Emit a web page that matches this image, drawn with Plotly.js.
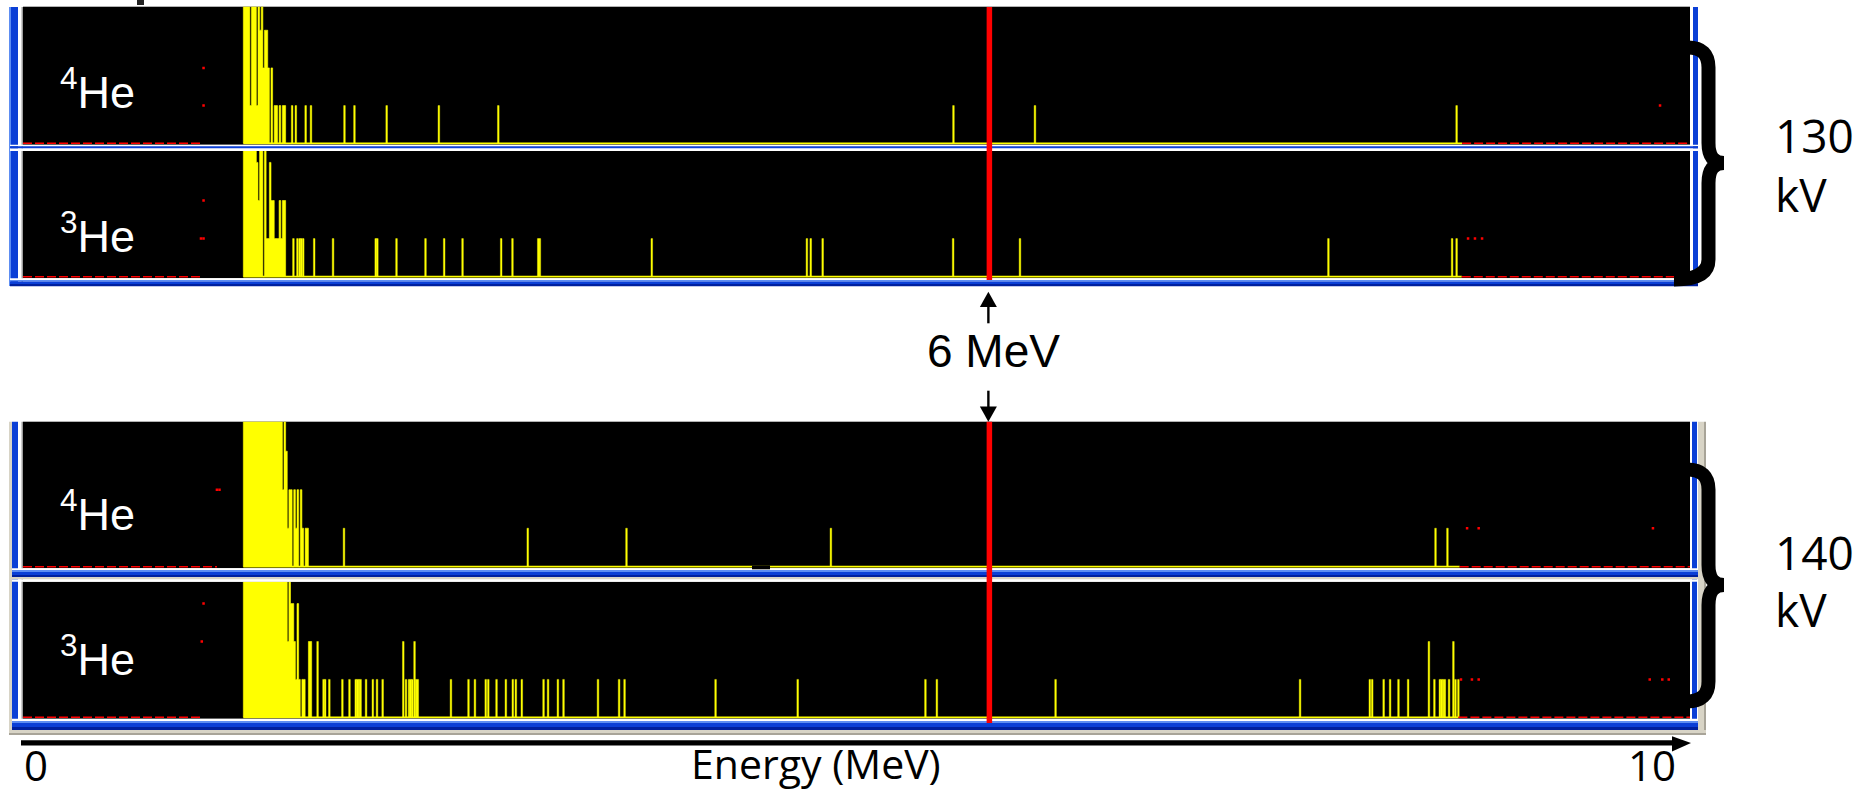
<!DOCTYPE html>
<html>
<head>
<meta charset="utf-8">
<script src="https://cdn.plot.ly/plotly-3.0.1.min.js"></script>
<style>
html,body{margin:0;padding:0;background:#ffffff;}
#chart{width:1862px;height:792px;}
</style>
</head>
<body>
<div id="chart"></div>
<script>
// ================= DATA =================
const E_MIN = 0, E_MAX = 10.35;        // energy span of each spectrum window (MeV)
const CHANNEL_MEV = 0.0101;            // width of one spectrum channel (MeV)
const MARKER_MEV = 6;                  // 6 MeV marker
const massNumbers = ["4", "3", "4", "3"];
const voltages = ["130", "140"];
const axisStart = "0", axisEnd = "10", axisTitle = "Energy (MeV)";
const markerLabel = "6 MeV";

// 4He, 130 kV
const he4_130_blobStart = 1.368;
const he4_130_blob = [9,9,9,9,1,9,9,9,1,9,3,9,2,3,3,2,0,2,0,1,1,0,1,0,1,1];
const he4_130_peakE = [1.671,1.694,1.755,1.788,1.996,2.058,2.258,2.582,2.951,5.777,6.283,8.901];
const he4_130_peakN = [1,1,1,1,1,1,1,1,1,1,1,1];
const he4_130_roi = [1.368, 8.935];
const he4_130_offLeft = 1.111;
const he4_130_dotE = [1.121, 1.121, 10.164];
const he4_130_dotN = [2, 1, 1];

// 3He, 130 kV
const he3_130_blobStart = 1.368;
const he3_130_blob = [9,9,9,9,9,9,9,9,3,2,9,9,0,9,1,1,3,2,2,1,1,1,2,1,2,2];
const he3_130_peakE = [1.679,1.704,1.718,1.728,1.740,1.808,1.925,2.190,2.200,2.319,2.499,2.615,2.729,2.969,3.039,3.199,3.209,3.904,4.867,4.891,4.965,5.775,6.190,8.105,8.873,8.901];
const he3_130_peakN = [1,1,1,1,1,1,1,1,1,1,1,1,1,1,1,1,1,1,1,1,1,1,1,1,1,1];
const he3_130_roi = [1.368, 8.933];
const he3_130_offLeft = 1.099;
const he3_130_dotE = [1.121, 1.105, 1.121, 8.972, 9.015, 9.059];
const he3_130_dotN = [2, 1, 1, 1, 1, 1];

// 4He, 140 kV
const he4_140_blobStart = 1.368;
const he4_140_blob = [9,9,9,9,9,9,9,9,9,9,9,9,9,9,9,9,9,9,9,9,9,9,9,9,2,9,3,1,2,2,0,2,1,2,0,2,1,0,1,1];
const he4_140_peakE = [1.993,3.134,3.747,5.016,8.770,8.844];
const he4_140_peakN = [1,1,1,1,1,1];
const he4_140_roi = [1.368, 8.920];
const he4_140_offLeft = 1.2045;
const he4_140_dotE = [1.204, 1.220, 8.966, 9.038, 10.120];
const he4_140_dotN = [2, 2, 1, 1, 1];

// 3He, 140 kV
const he3_140_blobStart = 1.368;
const he3_140_blob = [9,9,9,9,9,9,9,9,9,9,9,9,9,9,9,9,9,9,9,9,9,9,9,9,9,9,9,2,9,3,3,2,1,3,1,0,1,1,0,0,2,2];
const he3_140_peakE = [1.829,1.866,1.876,1.902,1.983,2.027,2.066,2.076,2.086,2.096,2.130,2.172,2.198,2.233,2.361,2.378,2.397,2.407,2.417,2.431,2.441,2.451,2.657,2.766,2.806,2.873,2.889,2.940,2.998,3.041,3.060,3.097,3.232,3.260,3.321,3.356,3.570,3.701,3.735,4.300,4.810,5.603,5.674,6.411,7.929,8.362,8.377,8.448,8.488,8.540,8.600,8.729,8.763,8.797,8.807,8.817,8.828,8.854,8.881,8.894,8.912];
const he3_140_peakN = [2,1,1,1,1,1,1,1,1,1,1,1,1,1,2,1,1,1,1,2,1,1,1,1,1,1,1,1,1,1,1,1,1,1,1,1,1,1,1,1,1,1,1,1,1,1,1,1,1,1,1,2,1,1,1,1,1,1,2,1,1];
const he3_140_roi = [1.368, 8.912];
const he3_140_offLeft = 1.111;
const he3_140_dotE = [1.121, 1.110, 8.928, 8.996, 9.038, 10.100, 10.178, 10.218];
const he3_140_dotN = [3, 2, 1, 1, 1, 1, 1, 1];

const spectra = [
  {start: he4_130_blobStart, blob: he4_130_blob, pe: he4_130_peakE, pn: he4_130_peakN, roi: he4_130_roi, off: he4_130_offLeft, de: he4_130_dotE, dn: he4_130_dotN},
  {start: he3_130_blobStart, blob: he3_130_blob, pe: he3_130_peakE, pn: he3_130_peakN, roi: he3_130_roi, off: he3_130_offLeft, de: he3_130_dotE, dn: he3_130_dotN},
  {start: he4_140_blobStart, blob: he4_140_blob, pe: he4_140_peakE, pn: he4_140_peakN, roi: he4_140_roi, off: he4_140_offLeft, de: he4_140_dotE, dn: he4_140_dotN},
  {start: he3_140_blobStart, blob: he3_140_blob, pe: he3_140_peakE, pn: he3_140_peakN, roi: he3_140_roi, off: he3_140_offLeft, de: he3_140_dotE, dn: he3_140_dotN}
];

// ================= LAYOUT GEOMETRY (pixels) =================
const W = 1862, H = 792;
const PLOT_L = 23, PLOT_R = 1690;
const fx = x => x / W;
const fy = y => 1 - y / H;
const P = (x, y) => fx(x).toFixed(5) + ',' + fy(y).toFixed(5);

const panelPx = [
  {top: 6.7,   bottom: 144.8, base: 143.3, unit: 37.7},
  {top: 151,   bottom: 278.2, base: 276.7, unit: 38.1},
  {top: 421.7, bottom: 568.2, base: 566.7, unit: 38.5},
  {top: 581.7, bottom: 718.8, base: 717.3, unit: 37.9}
];
const yIds = ['y', 'y2', 'y3', 'y4'];
const yKeys = ['yaxis', 'yaxis2', 'yaxis3', 'yaxis4'];

const YELLOW = '#ffff00';
const RED = '#ff0000';

const traces = [];
const layout = {
  width: W, height: H,
  margin: {l: 0, r: 0, t: 0, b: 0, pad: 0},
  paper_bgcolor: '#ffffff',
  plot_bgcolor: '#000000',
  showlegend: false,
  barmode: 'overlay',
  xaxis: {domain: [fx(PLOT_L), fx(PLOT_R)], range: [E_MIN, E_MAX], visible: false, fixedrange: true, anchor: 'y'},
  shapes: [],
  annotations: []
};

spectra.forEach((s, k) => {
  const g = panelPx[k];
  layout[yKeys[k]] = {
    domain: [fy(g.bottom), fy(g.top)],
    range: [-(g.bottom - g.base) / g.unit, (g.base - g.top) / g.unit],
    visible: false, fixedrange: true, anchor: 'x'
  };
  // yellow baseline inside region of interest
  traces.push({type: 'scatter', mode: 'lines', x: [s.roi[0], s.roi[1]], y: [0, 0],
    xaxis: 'x', yaxis: yIds[k], line: {color: YELLOW, width: 1.8}, hoverinfo: 'skip'});
  // red dashed baseline outside region of interest
  traces.push({type: 'scatter', mode: 'lines', x: [E_MIN, s.off, null, s.roi[1], E_MAX], y: [0, 0, null, 0, 0],
    xaxis: 'x', yaxis: yIds[k], line: {color: RED, width: 1.6, dash: '9px,3px'}, hoverinfo: 'skip'});
  // dense low-energy part of the spectrum: filled step histogram
  const sx = [s.start], sy = [0];
  s.blob.forEach((n, i) => { sx.push(s.start + i * CHANNEL_MEV); sy.push(n); });
  sx.push(s.start + s.blob.length * CHANNEL_MEV); sy.push(0);
  traces.push({type: 'scatter', mode: 'lines', x: sx, y: sy, xaxis: 'x', yaxis: yIds[k],
    line: {shape: 'hv', color: YELLOW, width: 0.6}, fill: 'tozeroy', fillcolor: YELLOW, hoverinfo: 'skip'});
  // isolated channels
  traces.push({type: 'bar', x: s.pe, y: s.pn, width: CHANNEL_MEV, xaxis: 'x', yaxis: yIds[k],
    marker: {color: YELLOW, line: {color: YELLOW, width: 0.4}}, hoverinfo: 'skip'});
  // red ROI marker dots
  traces.push({type: 'scatter', mode: 'markers', x: s.de, y: s.dn, xaxis: 'x', yaxis: yIds[k],
    marker: {symbol: 'square', size: 2.5, color: RED, line: {width: 0}}, hoverinfo: 'skip'});
});

// ================= FRAMES =================
const rect = (x0, y0, x1, y1, color) => ({type: 'rect', xref: 'paper', yref: 'paper',
  x0: fx(x0), x1: fx(x1), y0: fy(y1), y1: fy(y0), fillcolor: color, line: {width: 0}, layer: 'above'});
const BLUE = '#0b3fd6', BLUE_L = '#5d8df2', BLUE_D = '#00209e', TAN = '#d8d4c6', TAN_D = '#a8a498', GREY = '#9c9c9c';

// window 1 (130 kV)
layout.shapes.push(
  rect(9, 7, 11, 286, BLUE_L), rect(11, 7, 18, 286, BLUE), rect(18, 7, 21.5, 286, '#ffffff'), rect(21.5, 7, 23, 286, GREY),
  rect(1690, 7, 1693, 286, '#ffffff'), rect(1693, 7, 1698, 286, BLUE),
  rect(10, 144.8, 1698, 146.2, '#ffffff'), rect(10, 146.2, 1698, 148.6, BLUE), rect(10, 148.6, 1698, 151, '#ffffff'),
  rect(10, 278.2, 1698, 280, '#ffffff'), rect(10, 280, 1698, 281.6, BLUE_L), rect(10, 281.6, 1698, 284, BLUE), rect(10, 284, 1698, 286.2, BLUE_D),
  rect(137, 0, 144, 5, '#222222')
);
// window 2 (140 kV)
layout.shapes.push(
  rect(9, 421.7, 12, 735, TAN), rect(12, 421.7, 18, 730, BLUE), rect(18, 421.7, 21.5, 722, '#ffffff'), rect(21.5, 421.7, 23, 719, GREY),
  rect(1690, 421.7, 1692, 722, '#ffffff'), rect(1692, 421.7, 1697, 730, BLUE), rect(1698, 421.7, 1704, 735, TAN), rect(1704, 421.7, 1706, 735, TAN_D),
  rect(12, 568.2, 1698, 570, '#ffffff'), rect(12, 570, 1698, 572, BLUE_L), rect(12, 572, 1698, 575, BLUE), rect(12, 575, 1698, 577, BLUE_D),
  rect(12, 577, 1698, 579.5, TAN), rect(12, 579.5, 1698, 581.7, '#ffffff'),
  rect(12, 718.8, 1698, 721, '#ffffff'), rect(12, 721, 1698, 723, BLUE_L), rect(12, 723, 1698, 727, BLUE), rect(12, 727, 1698, 730, BLUE_D),
  rect(9, 730, 1706, 733, TAN), rect(9, 733, 1706, 735, TAN_D),
  rect(752, 565.6, 770, 569.3, '#000000')
);

// 6 MeV marker lines (data x)
layout.shapes.push(
  {type: 'line', xref: 'x', yref: 'paper', x0: MARKER_MEV, x1: MARKER_MEV, y0: fy(280), y1: fy(7), line: {color: RED, width: 5.5}, layer: 'above'},
  {type: 'line', xref: 'x', yref: 'paper', x0: MARKER_MEV, x1: MARKER_MEV, y0: fy(723), y1: fy(421.7), line: {color: RED, width: 5.5}, layer: 'above'}
);

// arrows next to "6 MeV"
const xm = PLOT_L + (MARKER_MEV - E_MIN) / (E_MAX - E_MIN) * (PLOT_R - PLOT_L) - 1;
layout.shapes.push(
  {type: 'line', xref: 'paper', yref: 'paper', x0: fx(xm), x1: fx(xm), y0: fy(323.3), y1: fy(305), line: {color: '#000', width: 2.4}},
  {type: 'path', xref: 'paper', yref: 'paper', path: 'M' + P(xm, 291.7) + ' L' + P(xm - 8.5, 307) + ' L' + P(xm + 8.5, 307) + ' Z', fillcolor: '#000', line: {width: 0}},
  {type: 'line', xref: 'paper', yref: 'paper', x0: fx(xm), x1: fx(xm), y0: fy(390.7), y1: fy(408.5), line: {color: '#000', width: 2.4}},
  {type: 'path', xref: 'paper', yref: 'paper', path: 'M' + P(xm, 421.7) + ' L' + P(xm - 8.5, 406.5) + ' L' + P(xm + 8.5, 406.5) + ' Z', fillcolor: '#000', line: {width: 0}}
);

// energy axis arrow
layout.shapes.push(
  rect(21, 740.3, 1674, 745.5, '#000000'),
  {type: 'path', xref: 'paper', yref: 'paper', path: 'M' + P(1672, 736.3) + ' L' + P(1691, 742.9) + ' L' + P(1672, 751.5) + ' Z', fillcolor: '#000', line: {width: 0}}
);

// braces
function bracePath(top, mid, bot, xl1, xl2) {
  const xv = 1708.5, xt = 1724, r = 20;
  return 'M' + P(xl1, top) + ' Q' + P(xv, top) + ' ' + P(xv, top + r) +
    ' L' + P(xv, mid - r) + ' Q' + P(xv, mid) + ' ' + P(xt, mid) +
    ' Q' + P(xv, mid) + ' ' + P(xv, mid + r) +
    ' L' + P(xv, bot - r) + ' Q' + P(xv, bot) + ' ' + P(xl2, bot);
}
layout.shapes.push(
  {type: 'path', xref: 'paper', yref: 'paper', path: bracePath(47.5, 163, 279.5, 1688, 1674), line: {color: '#000', width: 14}, layer: 'above'},
  {type: 'path', xref: 'paper', yref: 'paper', path: bracePath(469.5, 585, 701.5, 1687, 1687), line: {color: '#000', width: 14}, layer: 'above'}
);

// ================= TEXT =================
const labelFont = 'Liberation Sans, Arial, sans-serif';
const sideFont = 'Open Sans, Noto Sans, sans-serif';
const heCenters = [89, 233, 511, 656];
massNumbers.forEach((m, k) => {
  layout.annotations.push({xref: 'paper', yref: 'paper', x: fx(58), y: fy(heCenters[k]), xanchor: 'left', yanchor: 'middle',
    text: '<sup>' + m + '</sup>He', showarrow: false, font: {family: labelFont, size: 45, color: '#ffffff'}});
});
layout.annotations.push(
  {xref: 'paper', yref: 'paper', x: fx(993), y: fy(351.5), xanchor: 'center', yanchor: 'middle', text: markerLabel, showarrow: false, font: {family: labelFont, size: 46, color: '#000'}},
  {xref: 'paper', yref: 'paper', x: fx(1773), y: fy(135), xanchor: 'left', yanchor: 'middle', text: voltages[0], showarrow: false, font: {family: sideFont, size: 46, color: '#000'}},
  {xref: 'paper', yref: 'paper', x: fx(1773), y: fy(193.5), xanchor: 'left', yanchor: 'middle', text: 'kV', showarrow: false, font: {family: sideFont, size: 46, color: '#000'}},
  {xref: 'paper', yref: 'paper', x: fx(1773), y: fy(551.5), xanchor: 'left', yanchor: 'middle', text: voltages[1], showarrow: false, font: {family: sideFont, size: 46, color: '#000'}},
  {xref: 'paper', yref: 'paper', x: fx(1773), y: fy(609), xanchor: 'left', yanchor: 'middle', text: 'kV', showarrow: false, font: {family: sideFont, size: 46, color: '#000'}},
  {xref: 'paper', yref: 'paper', x: fx(36), y: fy(764), xanchor: 'center', yanchor: 'middle', text: axisStart, showarrow: false, font: {family: sideFont, size: 42, color: '#000'}},
  {xref: 'paper', yref: 'paper', x: fx(1652), y: fy(764), xanchor: 'center', yanchor: 'middle', text: axisEnd, showarrow: false, font: {family: sideFont, size: 42, color: '#000'}},
  {xref: 'paper', yref: 'paper', x: fx(816), y: fy(763), xanchor: 'center', yanchor: 'middle', text: axisTitle, showarrow: false, font: {family: sideFont, size: 41, color: '#000'}}
);

Plotly.newPlot('chart', traces, layout, {staticPlot: true, displayModeBar: false});
</script>
</body>
</html>
